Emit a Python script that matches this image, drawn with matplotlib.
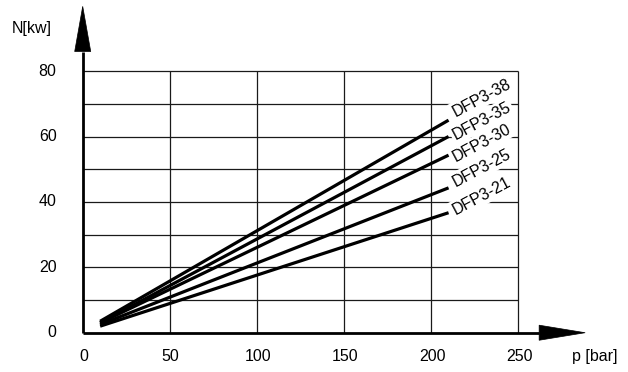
import matplotlib
matplotlib.use("Agg")
import matplotlib.pyplot as plt

plt.rcParams['font.family'] = ['Liberation Sans', 'DejaVu Sans']

# Data
pressure = [10, 210]                      # p [bar]
series_names = ["DFP3-38", "DFP3-35", "DFP3-30", "DFP3-25", "DFP3-21"]
power_38 = [3.5, 65.0]
power_35 = [3.0, 60.0]
power_30 = [3.0, 54.3]
power_25 = [2.5, 44.3]
power_21 = [2.0, 36.7]
series_values = [power_38, power_35, power_30, power_25, power_21]
label_y = [66.1, 58.9, 52.3, 44.6, 36.0]   # label baseline heights

x_ticks = [0, 50, 100, 150, 200, 250]
y_ticks = [0, 20, 40, 60, 80]
grid_y = [10, 20, 30, 40, 50, 60, 70, 80]
grid_x = [50, 100, 150, 200, 250]
x_label = "p [bar]"
y_label = "N[kw]"

fig = plt.figure(figsize=(6.28, 3.72), dpi=100)
ax = fig.add_axes([0.1317, 0.1056, 0.8045, 0.879])
ax.set_xlim(0, 290)
ax.set_ylim(0, 100)
ax.axis('off')

# grid
ax.hlines(grid_y, 0, 250, colors='#1a1a1a', lw=0.9, zorder=1)
ax.vlines(grid_x, 0, 80, colors='#1a1a1a', lw=0.9, zorder=1)

# series
for vals in series_values:
    ax.plot(pressure, vals, color='black', lw=2.3, solid_capstyle='butt', zorder=3)

# labels
for name, ly in zip(series_names, label_y):
    ax.text(214, ly, name, rotation=28, rotation_mode='anchor',
            ha='left', va='baseline', fontsize=11.5, color='black', zorder=4,
            bbox=dict(facecolor='white', edgecolor='none', pad=1.5))

# axes with arrows
ax.plot([0, 262], [0, 0], color='black', lw=2.0, zorder=5, clip_on=False, solid_capstyle='butt')
ax.plot([0, 0], [0, 86], color='black', lw=2.0, zorder=5, clip_on=False, solid_capstyle='butt')
ax.arrow(262, 0, 26.4, 0, width=0, head_width=4.6, head_length=26.4,
         length_includes_head=True, fc='black', ec='black', lw=0.5, zorder=6, clip_on=False)
ax.arrow(0, 86, 0, 13.8, width=0, head_width=9.2, head_length=13.8,
         length_includes_head=True, fc='black', ec='black', lw=0.5, zorder=6, clip_on=False)

# tick labels
for t in y_ticks:
    ax.text(-15, t, str(t), ha='right', va='center', fontsize=11.5, clip_on=False)
for t in x_ticks:
    ax.text(t + 0.5, -7.3, str(t), ha='center', va='center', fontsize=11.5, clip_on=False)

ax.text(281, -7.3, x_label, ha='left', va='center', fontsize=11.5, clip_on=False)
ax.text(-29, 93, y_label, ha='center', va='center', fontsize=11.5, clip_on=False)

fig.savefig("out.png", dpi=100)
